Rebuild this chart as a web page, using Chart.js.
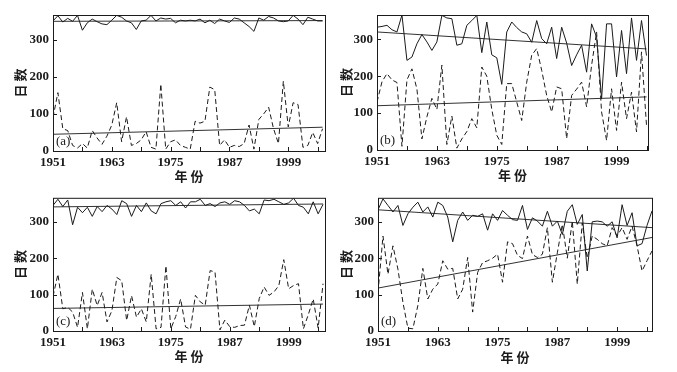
<!DOCTYPE html>
<html>
<head>
<meta charset="utf-8">
<script src="https://cdn.jsdelivr.net/npm/chart.js@4.4.1/dist/chart.umd.min.js"></script>
<style>
  body { margin: 0; background: #fff; width: 677px; height: 372px; position: relative; overflow: hidden; }
  .panel { position: absolute; }
</style>
</head>
<body>
<div class="panel" style="left:0;top:0"><canvas id="pa" width="338" height="186"></canvas></div>
<div class="panel" style="left:338px;top:0"><canvas id="pb" width="339" height="186"></canvas></div>
<div class="panel" style="left:0;top:186px"><canvas id="pc" width="338" height="186"></canvas></div>
<div class="panel" style="left:338px;top:186px"><canvas id="pd" width="339" height="186"></canvas></div>
<script>
// years of record
const years = [1951, 1952, 1953, 1954, 1955, 1956, 1957, 1958, 1959, 1960,
  1961, 1962, 1963, 1964, 1965, 1966, 1967, 1968, 1969, 1970,
  1971, 1972, 1973, 1974, 1975, 1976, 1977, 1978, 1979, 1980,
  1981, 1982, 1983, 1984, 1985, 1986, 1987, 1988, 1989, 1990,
  1991, 1992, 1993, 1994, 1995, 1996, 1997, 1998, 1999, 2000,
  2001, 2002, 2003, 2004, 2005, 2006];
const xLabels = [1951, 1963, 1975, 1987, 1999];
const xMinor = [1951, 1957, 1963, 1969, 1975, 1981, 1987, 1993, 1999, 2005];
const yTicks = [0, 100, 200, 300];

// (a)
const aSolid = [350, 364, 347, 357, 349, 365, 325, 345, 355, 348, 342, 340, 352, 365, 360, 350, 345, 327, 350, 352,
  365, 350, 358, 355, 357, 345, 352, 350, 352, 350, 355, 345, 352, 343, 355, 350, 346, 358, 355, 345,
  335, 322, 358, 352, 362, 358, 350, 348, 350, 365, 355, 340, 360, 355, 350, 350];
const aDash = [90, 157, 60, 55, 15, 8, 20, 8, 55, 35, 18, 40, 70, 130, 25, 92, 15, 20, 30, 52,
  10, 5, 180, 5, 25, 30, 15, 10, 5, 80, 75, 80, 172, 165, 15, 30, 10, 15, 12, 20,
  70, 5, 85, 100, 118, 60, 20, 188, 65, 130, 125, 10, 15, 50, 20, 60];
const aSolidTrend = [349, 351];
const aDashTrend = [45, 64];

// (b)
const bSolid = [333, 335, 338, 326, 320, 366, 243, 252, 288, 313, 293, 270, 293, 365, 358, 356, 284, 288, 338, 351,
  365, 264, 347, 258, 250, 178, 320, 347, 332, 320, 315, 292, 351, 302, 288, 333, 248, 333, 290, 229,
  258, 284, 211, 342, 306, 139, 342, 342, 198, 324, 207, 358, 243, 351, 256];
const bDash = [130, 185, 207, 190, 183, 10, 190, 220, 165, 30, 90, 140, 110, 230, 15, 92, 5, 30, 50, 85,
  60, 225, 200, 110, 40, 15, 180, 180, 130, 80, 184, 257, 275, 216, 148, 103, 171, 166, 31, 148,
  165, 184, 117, 230, 320, 103, 26, 166, 53, 184, 85, 157, 49, 266, 67];
const bSolidTrend = [320, 274];
const bDashTrend = [120, 144];

// (c)
const cSolid = [345, 362, 342, 360, 292, 340, 325, 340, 315, 342, 328, 345, 335, 320, 358, 350, 315, 345, 328, 352,
  330, 322, 350, 355, 358, 345, 355, 338, 355, 355, 362, 345, 350, 342, 352, 355, 348, 358, 355, 345,
  330, 335, 322, 360, 358, 362, 355, 348, 352, 365, 345, 340, 322, 355, 322, 348];
const cDash = [95, 156, 61, 65, 52, 10, 106, 6, 115, 70, 106, 25, 56, 147, 138, 29, 97, 38, 61, 25,
  156, 6, 10, 179, 6, 40, 88, 11, 5, 98, 80, 71, 166, 162, 3, 30, 12, 10, 15, 16,
  71, 12, 89, 121, 98, 107, 125, 196, 116, 125, 130, 6, 45, 88, 8, 130];
const cSolidTrend = [341, 349];
const cDashTrend = [62, 74];

// (d)
const dSolid = [333, 363, 345, 327, 345, 290, 322, 340, 354, 327, 341, 313, 354, 345, 313, 245, 304, 327, 304, 318,
  315, 322, 277, 322, 304, 331, 318, 306, 304, 345, 279, 311, 302, 288, 329, 288, 302, 265, 329, 347,
  293, 320, 165, 300, 302, 300, 288, 300, 256, 347, 290, 325, 234, 240, 290, 330];
const dDash = [106, 261, 156, 234, 170, 79, 8, 6, 70, 172, 88, 115, 129, 193, 170, 172, 88, 115, 202, 52,
  161, 188, 193, 200, 211, 134, 245, 240, 208, 199, 261, 210, 202, 211, 284, 134, 215, 293, 200, 302,
  129, 297, 200, 261, 252, 240, 234, 284, 261, 284, 252, 288, 234, 165, 193, 220];
const dSolidTrend = [333, 284];
const dDashTrend = [118, 257];

const ink = '#1b1b1b';
const numFont = { family: '"Liberation Serif", "DejaVu Serif", serif', size: 13, weight: 'bold' };
const cjkFont = { family: '"Noto Sans CJK SC", sans-serif', size: 13, weight: 'bold' };

// box around the plot, small inward ticks and the panel letter
const frame = {
  id: 'frame',
  afterDraw(chart, args, opts) {
    const { ctx, chartArea: a, scales } = chart;
    ctx.save();
    ctx.strokeStyle = ink;
    ctx.lineWidth = 1;
    ctx.strokeRect(a.left + 0.5, a.top + 0.5, a.right - a.left, a.bottom - a.top);
    ctx.beginPath();
    scales.x.ticks.forEach(t => {
      const px = Math.round(scales.x.getPixelForValue(t.value)) + 0.5;
      ctx.moveTo(px, a.bottom);
      ctx.lineTo(px, a.bottom - 4);
    });
    scales.y.ticks.forEach(t => {
      const py = Math.round(scales.y.getPixelForValue(t.value)) + 0.5;
      ctx.moveTo(a.left, py);
      ctx.lineTo(a.left + 4, py);
    });
    ctx.stroke();
    ctx.fillStyle = ink;
    ctx.font = '13px "Liberation Serif", serif';
    ctx.textBaseline = 'middle';
    ctx.fillText(opts.label, a.left + 3, a.bottom - 9);
    ctx.restore();
  }
};

function makePanel(id, label, solid, dash, sTrend, dTrend, xMax, box) {
  const n = solid.length;
  const yrs = years.slice(0, n);
  const line = (vals, extra) => Object.assign({
    data: vals.map((v, i) => ({ x: yrs[i], y: v })),
    borderColor: ink,
    borderWidth: 1,
    pointRadius: 0,
    tension: 0,
    fill: false
  }, extra || {});
  const trend = (t) => ({
    data: [{ x: yrs[0], y: t[0] }, { x: yrs[n - 1], y: t[1] }],
    borderColor: ink,
    borderWidth: 0.9,
    pointRadius: 0,
    fill: false
  });

  new Chart(document.getElementById(id), {
    type: 'line',
    data: {
      datasets: [
        line(solid),
        line(dash, { borderDash: [5, 3] }),
        trend(sTrend),
        trend(dTrend)
      ]
    },
    options: {
      responsive: false,
      animation: false,
      layout: { padding: { top: box.top, right: box.right, left: 0, bottom: 0 } },
      plugins: {
        legend: { display: false },
        tooltip: { enabled: false },
        frame: { label: label }
      },
      scales: {
        x: {
          type: 'linear',
          min: 1951,
          max: xMax,
          afterBuildTicks: s => { s.ticks = xMinor.filter(v => v <= xMax).map(v => ({ value: v })); },
          afterFit: s => { s.height = box.xh; },
          grid: { display: false, drawTicks: false },
          border: { display: false },
          ticks: {
            autoSkip: false,
            maxRotation: 0,
            padding: 4,
            color: ink,
            font: numFont,
            callback: v => xLabels.includes(v) ? String(v) : ''
          },
          title: { display: true, text: '年 份', color: ink, font: cjkFont, padding: { top: 0, bottom: box.xt } }
        },
        y: {
          min: 0,
          max: 366,
          afterBuildTicks: s => { s.ticks = yTicks.map(v => ({ value: v })); },
          afterFit: s => { s.width = box.yw; },
          grid: { display: false, drawTicks: false },
          border: { display: false },
          ticks: { padding: 4, color: ink, font: numFont },
          title: { display: true, text: '日 数', color: ink, font: cjkFont, padding: { top: box.yt, bottom: 0 } }
        }
      }
    },
    plugins: [frame]
  });
}

makePanel('pa', '(a)', aSolid, aDash, aSolidTrend, aDashTrend, 2006.5, { top: 15, right: 13, xh: 35, yw: 53, xt: 2, yt: 12 });
makePanel('pb', '(b)', bSolid, bDash, bSolidTrend, bDashTrend, 2005.3, { top: 15, right: 29, xh: 36, yw: 39, xt: 3, yt: 0 });
makePanel('pc', '(c)', cSolid, cDash, cSolidTrend, cDashTrend, 2006.4, { top: 10, right: 13, xh: 41, yw: 53, xt: 8, yt: 12 });
makePanel('pd', '(d)', dSolid, dDash, dSolidTrend, dDashTrend, 2006, { top: 9, right: 25, xh: 41, yw: 40, xt: 7, yt: 0 });
</script>
</body>
</html>
